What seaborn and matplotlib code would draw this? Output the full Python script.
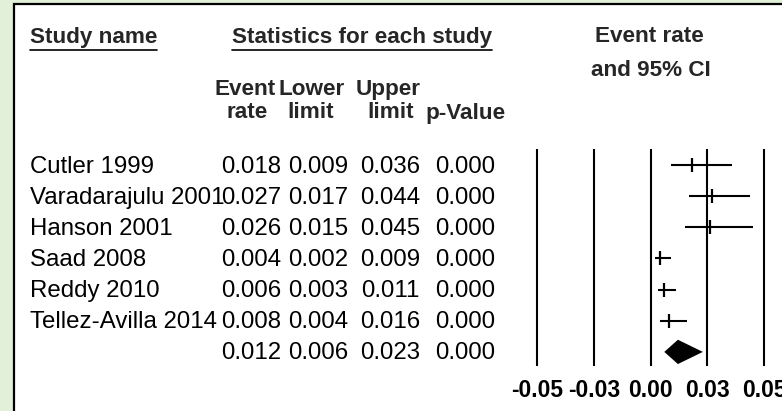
"""Forest plot of event rates with study statistics table."""

import matplotlib.pyplot as plt
import matplotlib.transforms as mtransforms
import pandas as pd
import seaborn as sns
from matplotlib.lines import Line2D
from matplotlib.patches import Rectangle

studies = ["Cutler 1999", "Varadarajulu 2001", "Hanson 2001", "Saad 2008",
           "Reddy 2010", "Tellez-Avilla 2014"]
event_rate = [0.018, 0.027, 0.026, 0.004, 0.006, 0.008]
lower_limit = [0.009, 0.017, 0.015, 0.002, 0.003, 0.004]
upper_limit = [0.036, 0.044, 0.045, 0.009, 0.011, 0.016]
p_value = [0.000, 0.000, 0.000, 0.000, 0.000, 0.000]

summary_rate = 0.012
summary_lower = 0.006
summary_upper = 0.023
summary_p = 0.000

x_ticks = [-0.05, -0.025, 0.0, 0.025, 0.05]
x_tick_labels = ["-0.05", "-0.03", "0.00", "0.03", "0.05"]

sns.set_theme(style="white")
plt.rcParams["font.family"] = ["Liberation Sans", "DejaVu Sans"]

W, H = 782, 411
fig = plt.figure(figsize=(W / 100, H / 100), dpi=100)
fig.patch.set_facecolor("#e2efd9")


def fx(px):
    return px / W


def fy(py):
    return 1 - py / H


# white panel with black border
fig.add_artist(Rectangle((fx(14), -0.02), 1.0, fy(4) + 0.02, transform=fig.transFigure,
                         facecolor="white", edgecolor="black", linewidth=1.6, zorder=0))

df = pd.DataFrame({"study": studies, "rate": event_rate, "lower": lower_limit,
                   "upper": upper_limit, "p": p_value})
df["row"] = range(len(df))
summary_row = len(df)

ax = fig.add_axes([fx(525), fy(376), fx(782) - fx(525), (376 - 140) / H])
ax.patch.set_alpha(0)
for s in ax.spines.values():
    s.set_visible(False)
ax.set_xlim(-0.05542, 0.05789)
ax.set_ylim(6.774, -0.806)

ax.vlines(x_ticks, -0.516, 6.452, color="black", linewidth=1.5)
ax.hlines(df["row"], df["lower"], df["upper"], color="black", linewidth=1.5)
sns.scatterplot(data=df, x="rate", y="row", marker="|", s=90, color="black",
                linewidth=1.6, ax=ax, legend=False)
dh = 0.39
ax.fill([summary_lower, summary_rate, summary_upper, summary_rate],
        [summary_row, summary_row - dh, summary_row, summary_row + dh],
        color="black", linewidth=0)

ax.set_xticks(x_ticks)
ax.set_xticklabels(x_tick_labels, fontsize=16.5, fontweight="bold")
ax.tick_params(axis="x", length=0, pad=2, colors="black")
ax.set_yticks([])
ax.set_xlabel("")
ax.set_ylabel("")

# table text, rows aligned to the forest rows
row_tr = mtransforms.blended_transform_factory(fig.transFigure, ax.transData)
fs = 17.3
nudge = 0.05  # small downward shift so digits sit on the marker rows
for _, r in df.iterrows():
    ax.text(fx(30), r["row"] + nudge, r["study"], transform=row_tr, fontsize=fs,
            va="center", ha="left", color="black")
    for val, xr in zip([r["rate"], r["lower"], r["upper"], r["p"]], [281, 348, 420, 495]):
        ax.text(fx(xr), r["row"] + nudge, f"{val:.3f}", transform=row_tr, fontsize=fs,
                va="center", ha="right", color="black")
for val, xr in zip([summary_rate, summary_lower, summary_upper, summary_p], [281, 348, 420, 495]):
    ax.text(fx(xr), summary_row + nudge, f"{val:.3f}", transform=row_tr, fontsize=fs,
            va="center", ha="right", color="black")

# headers
hfs = 16.2
t1 = fig.text(fx(30), fy(38), "Study name", fontsize=hfs, fontweight="bold", va="center", ha="left")
t2 = fig.text(fx(232), fy(38), "Statistics for each study", fontsize=hfs, fontweight="bold",
              va="center", ha="left")
fig.text(fx(649), fy(37), "Event rate", fontsize=hfs, fontweight="bold", va="center", ha="center")
fig.text(fx(651), fy(70), "and 95% CI", fontsize=hfs, fontweight="bold", va="center", ha="center")
for lab, xc in zip(["Event", "Lower", "Upper"], [245, 312, 388]):
    fig.text(fx(xc), fy(89), lab, fontsize=hfs, fontweight="bold", va="center", ha="center")
for lab, xc in zip(["rate", "limit", "limit", "p-Value"], [247, 311, 391, 466]):
    fig.text(fx(xc), fy(113), lab, fontsize=hfs, fontweight="bold", va="center", ha="center")

# underline the two top headers
renderer = fig.canvas.get_renderer()
for t in (t1, t2):
    bb = t.get_window_extent(renderer).transformed(fig.transFigure.inverted())
    fig.add_artist(Line2D([bb.x0, bb.x1], [fy(50), fy(50)], transform=fig.transFigure,
                          color="black", linewidth=1.2))

fig.savefig("out.png", dpi=100, facecolor=fig.get_facecolor())
plt.close(fig)
